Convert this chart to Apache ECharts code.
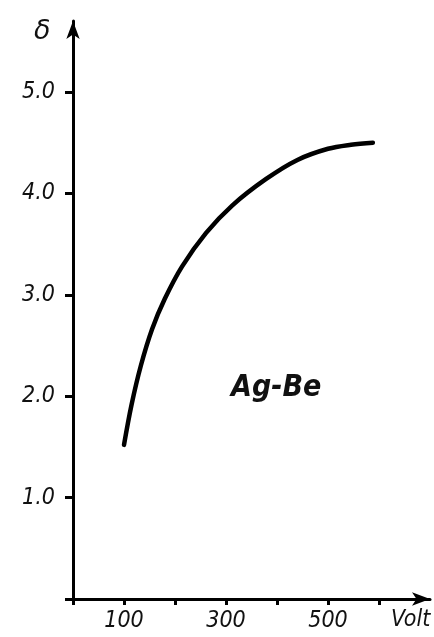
<!DOCTYPE html>
<html>
<head>
<meta charset="utf-8">
<script src="https://cdn.jsdelivr.net/npm/echarts@6/dist/echarts.min.js"></script>
<style>
html,body{margin:0;padding:0;background:#fff;}
#chart{width:434px;height:637px;}
</style>
</head>
<body>
<div id="chart"></div>
<script>
// Data (voltage in V, secondary emission yield δ)
var voltValues = [100, 115, 133, 155, 180, 214, 261, 312, 378, 440, 500, 545, 588];
var deltaValues = [1.52, 1.92, 2.30, 2.66, 2.96, 3.28, 3.61, 3.88, 4.14, 4.33, 4.44, 4.48, 4.50];
var xTickValues = [0, 100, 200, 300, 400, 500, 600];
var xLabelValues = [100, 300, 500];
var yTickValues = [0, 1, 2, 3, 4, 5];
var yLabelValues = [1, 2, 3, 4, 5];
var curveLabel = 'Ag-Be';
var xAxisName = 'Volt';
var yAxisName = 'δ';

var seriesData = voltValues.map(function (v, i) { return [v, deltaValues[i]]; });

var chart = echarts.init(document.getElementById('chart'), null, {renderer: 'canvas'});
var labelFont = {color: '#111', fontFamily: '"DejaVu Sans Condensed", "DejaVu Sans"', fontStyle: 'italic', fontSize: 23};

chart.setOption({
  backgroundColor: '#fff',
  animation: false,
  grid: {left: 73, right: 4, top: 21, bottom: 38, containLabel: false},
  xAxis: {
    type: 'value', min: 0, max: 700,
    axisLine: {show: true, lineStyle: {color: '#000', width: 3}, symbol: ['none', 'arrow'], symbolSize: [10, 18]},
    axisTick: {show: true, length: 6, inside: false, lineStyle: {color: '#000', width: 3}, customValues: xTickValues},
    axisLabel: Object.assign({margin: 11, customValues: xLabelValues, formatter: function (v) { return String(v); }}, labelFont),
    splitLine: {show: false}
  },
  yAxis: {
    type: 'value', min: 0, max: 5.7,
    axisLine: {show: true, lineStyle: {color: '#000', width: 3}, symbol: ['none', 'arrow'], symbolSize: [10, 18]},
    axisTick: {show: true, length: 8, lineStyle: {color: '#000', width: 3}, customValues: yTickValues},
    axisLabel: Object.assign({margin: 18, customValues: yLabelValues, formatter: function (v) { return v.toFixed(1); }}, labelFont),
    splitLine: {show: false}
  },
  series: [{
    type: 'line',
    data: seriesData,
    smooth: 0.35,
    showSymbol: false,
    lineStyle: {color: '#000', width: 4.5, cap: 'round'}
  }],
  graphic: [
    {type: 'text', left: 391, top: 609, style: {text: xAxisName, fill: '#111', font: 'italic 23px "DejaVu Sans Condensed", "DejaVu Sans"'}},
    {type: 'text', left: 34, top: 18, style: {text: yAxisName, fill: '#111', font: 'italic 27px "DejaVu Sans"'}},
    {type: 'text', left: 231, top: 373, style: {text: curveLabel, fill: '#111', font: 'italic bold 30px "DejaVu Sans Condensed", "DejaVu Sans"'}}
  ]
});
</script>
</body>
</html>
